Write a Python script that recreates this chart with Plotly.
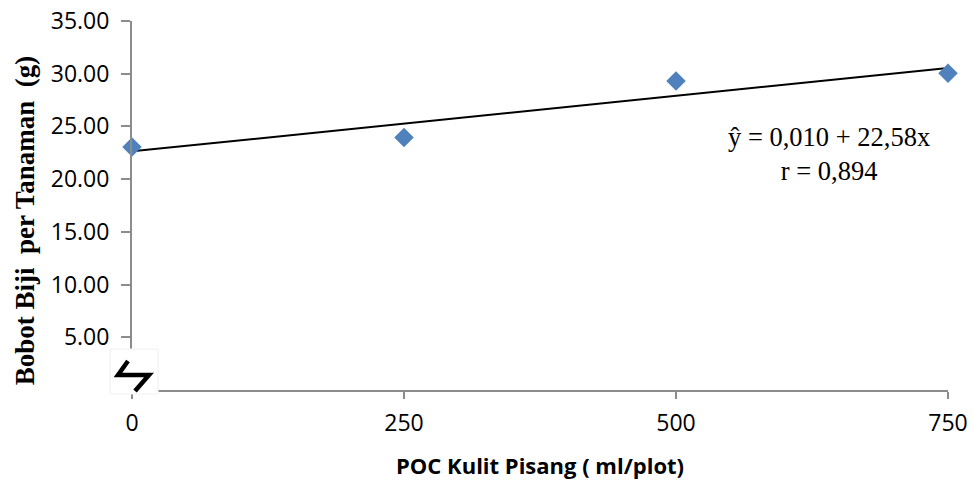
import numpy as np
import plotly.graph_objects as go

# Data
poc_dose = [0, 250, 500, 750]
bobot_biji = [23.05, 23.95, 29.30, 30.05]
x_ticks = [0, 250, 500, 750]
y_ticks = [5, 10, 15, 20, 25, 30, 35]
y_tick_text = ["%.2f" % v for v in y_ticks]

slope, intercept = np.polyfit(poc_dose, bobot_biji, 1)
trend_x = [min(poc_dose), max(poc_dose)]
trend_y = [intercept + slope * v for v in trend_x]

fig = go.Figure()
fig.add_trace(go.Scatter(x=trend_x, y=trend_y, mode="lines",
                         line=dict(color="black", width=2), cliponaxis=False,
                         showlegend=False, hoverinfo="skip"))
fig.add_trace(go.Scatter(x=poc_dose, y=bobot_biji, mode="markers",
                         marker=dict(symbol="diamond", size=15, color="#4F81BD",
                                     line=dict(width=0)),
                         cliponaxis=False, showlegend=False))

axis_color = "#8c8c8c"
fig.update_layout(
    width=973, height=480,
    margin=dict(l=132, r=25, t=21, b=90.4),
    paper_bgcolor="white", plot_bgcolor="white",
    font=dict(family="Open Sans", color="black"),
    xaxis=dict(range=[0, 750], tickvals=x_ticks, ticktext=[str(v) for v in x_ticks],
               automargin=False,
               showgrid=False, zeroline=False, showline=True, linecolor=axis_color,
               linewidth=2, ticks="outside", ticklen=7, tickwidth=2, tickcolor=axis_color,
               tickfont=dict(size=23, family="Open Sans"), ticklabelstandoff=4),
    yaxis=dict(range=[0, 35], tickvals=y_ticks, ticktext=y_tick_text,
               automargin=False,
               showgrid=False, zeroline=False, showline=True, linecolor=axis_color,
               linewidth=2, ticks="outside", ticklen=9, tickwidth=2, tickcolor=axis_color,
               tickfont=dict(size=23, family="Open Sans"), ticklabelstandoff=7),
    annotations=[
        dict(text="POC Kulit Pisang ( ml/plot)", xref="paper", yref="paper",
             x=0.5, y=0, yshift=-75, xanchor="center", yanchor="middle",
             showarrow=False, font=dict(size=22, family="Open Sans", color="black", weight="bold")),
        dict(text="Bobot Biji  per Tanaman  (g)", xref="paper", yref="paper",
             x=0, y=0.46, xshift=-107, xanchor="center", yanchor="middle", textangle=-90,
             showarrow=False, font=dict(size=27, family="Liberation Serif", color="black", weight="bold")),
        dict(text="ŷ = 0,010 + 22,58x<br>r = 0,894", xref="paper", yref="paper",
             x=(829 - 132) / 816, y=(389.6 - 154) / 368.6, xanchor="center", yanchor="middle",
             align="center", showarrow=False,
             font=dict(size=26.5, family="Liberation Serif", color="black")),
    ],
    shapes=[
        # axis-break box
        dict(type="rect", xref="paper", yref="paper", xsizemode="pixel", ysizemode="pixel",
             xanchor=0, yanchor=0, x0=-22, x1=26, y0=-4, y1=41,
             fillcolor="white", line=dict(color="#f0f0f0", width=1), layer="above"),
        dict(type="path", xref="paper", yref="paper", xsizemode="pixel", ysizemode="pixel",
             xanchor=0, yanchor=0,
             path="M -4,29 L -14,15 L 17,15 L 3,-1",
             line=dict(color="black", width=4.5), layer="above"),
    ],
)

fig.write_html("out.html")
